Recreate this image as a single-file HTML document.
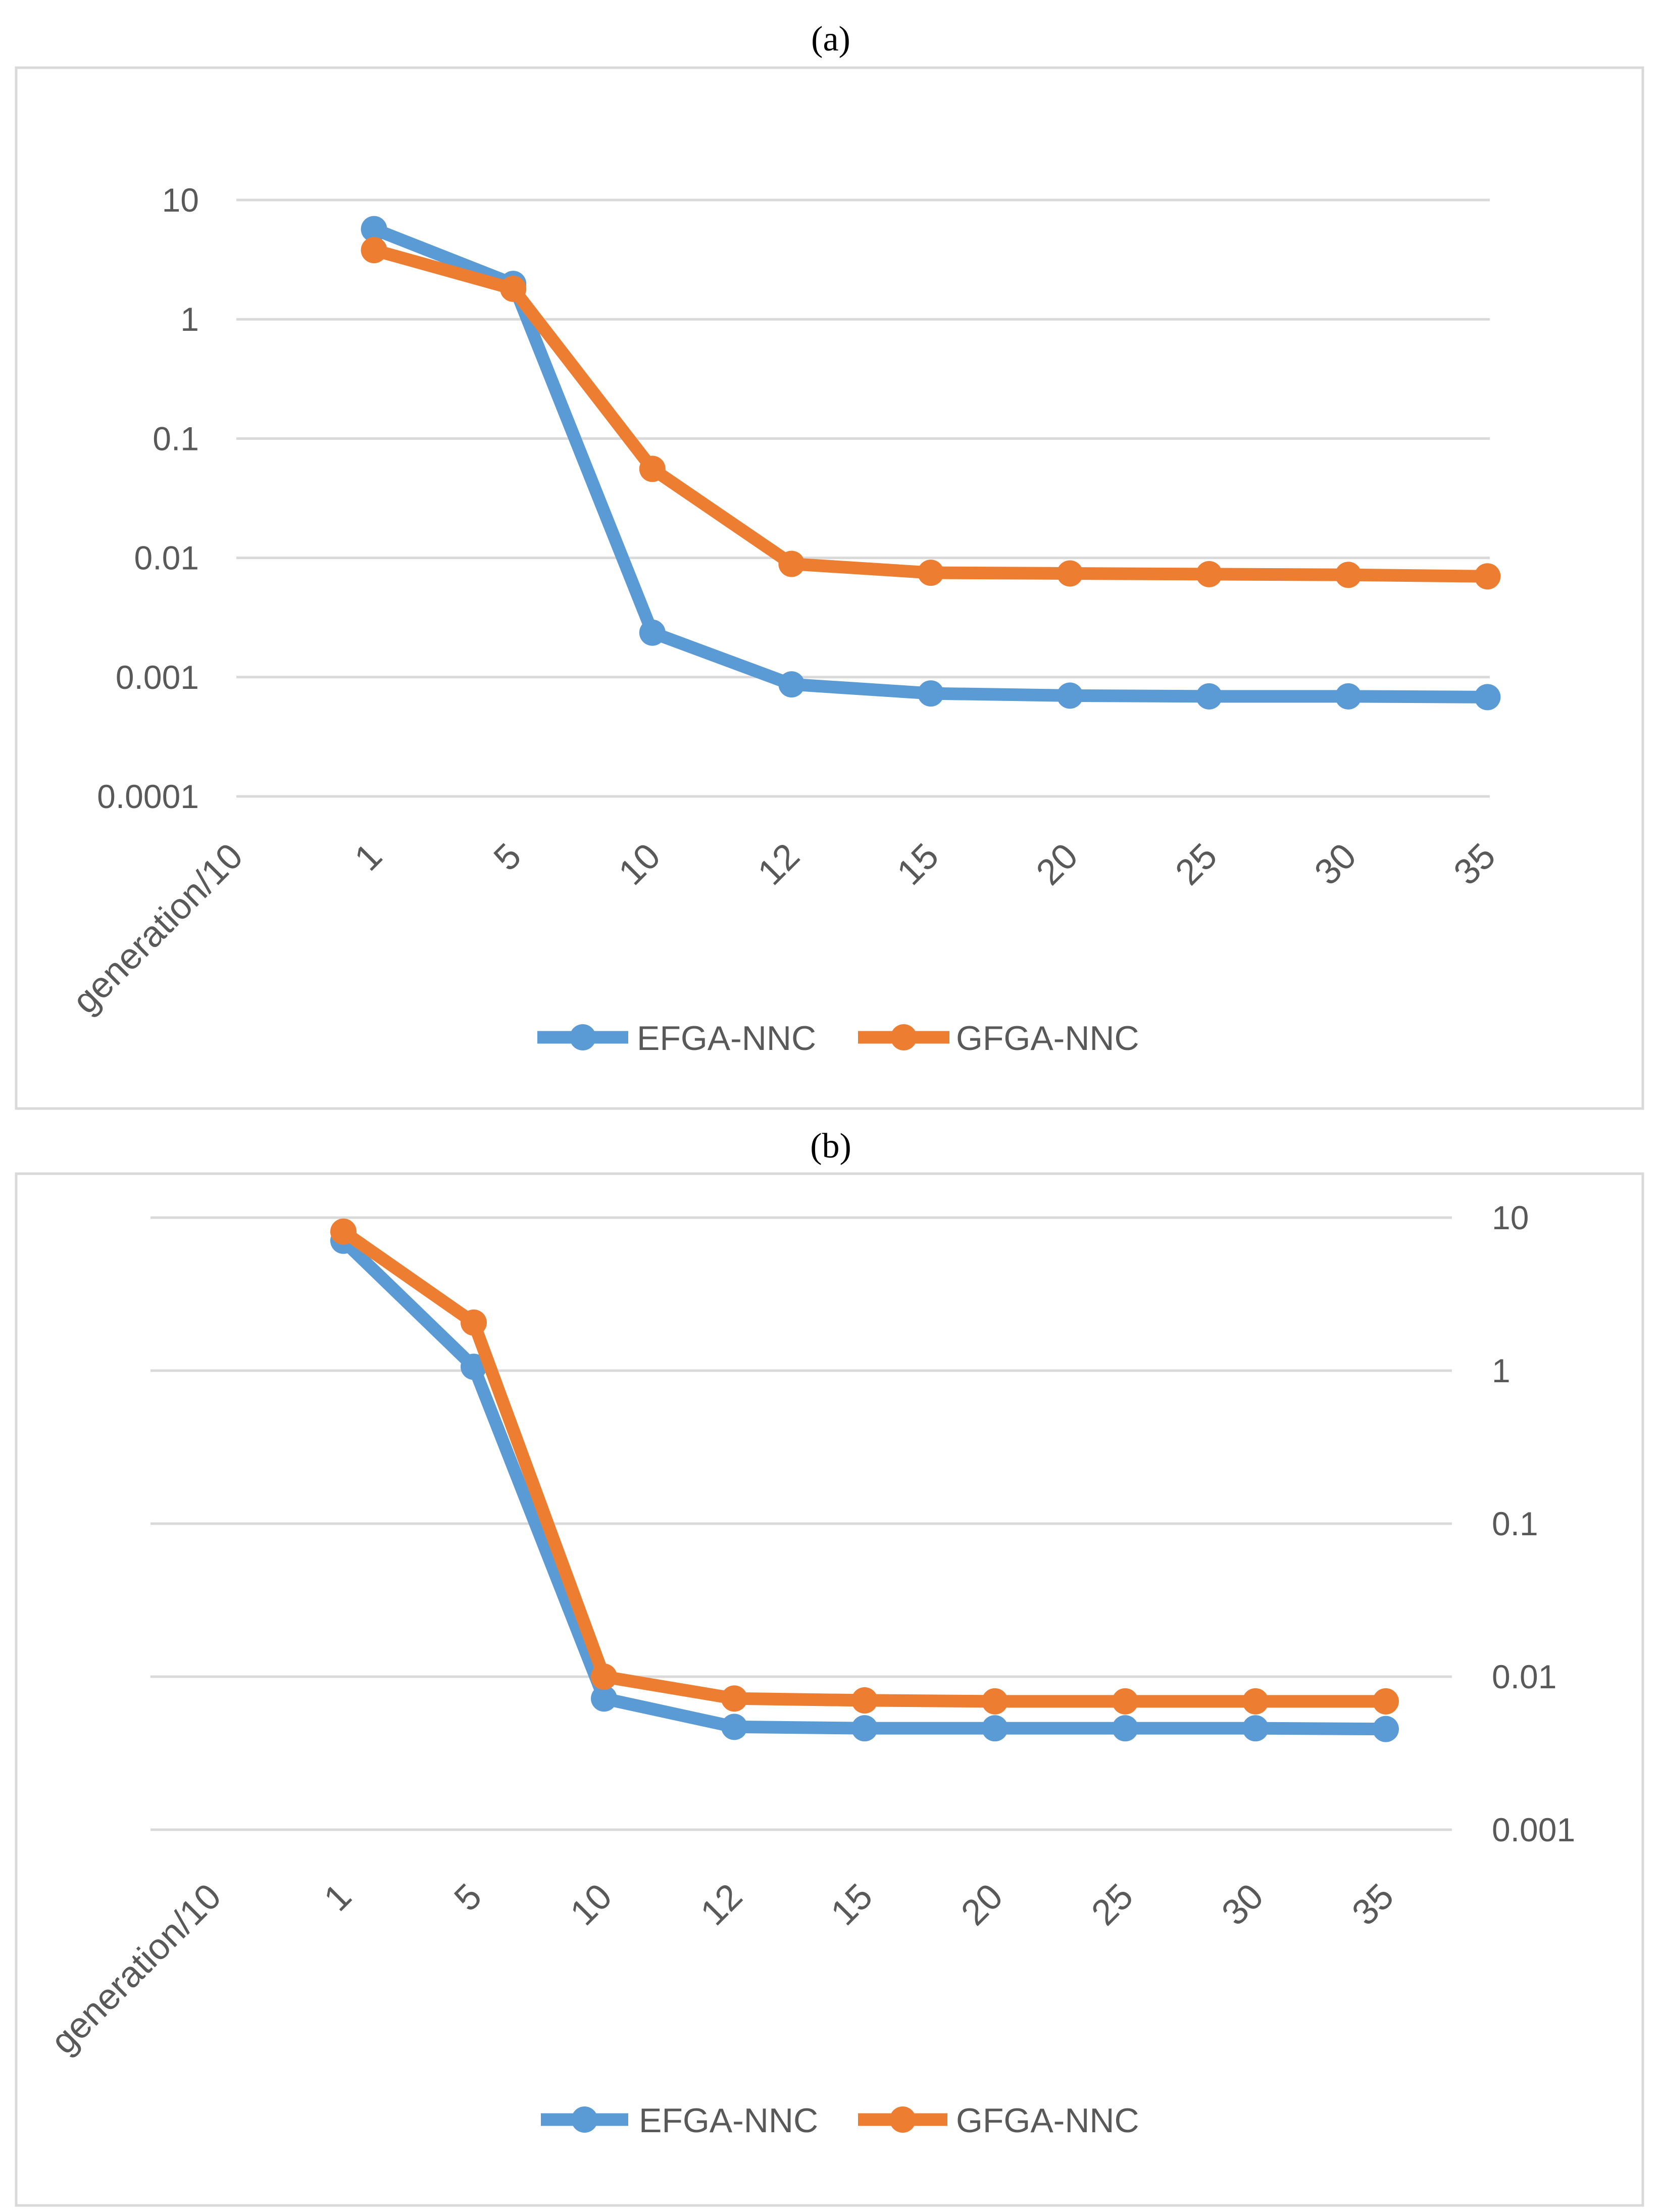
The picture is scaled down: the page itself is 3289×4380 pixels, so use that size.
<!DOCTYPE html>
<html><head><meta charset="utf-8"><style>
html,body{margin:0;padding:0;background:#fff}
svg{display:block}
</style></head><body>
<svg id="root" width="3289" height="4380" viewBox="0 0 3289 4380" xmlns="http://www.w3.org/2000/svg">
<rect x="0" y="0" width="3289" height="4380" fill="#fff"/>
</svg>
<script>
const categories = ["generation/10","1","5","10","12","15","20","25","30","35"];
const seriesNames = ["EFGA-NNC","GFGA-NNC"];
const efgaA = [null,5.7,1.98,0.00236,0.00087,0.00073,0.00070,0.00069,0.00069,0.00068];
const gfgaA = [null,3.8,1.8,0.0557,0.0089,0.0075,0.0074,0.0073,0.0072,0.0070];
const efgaB = [null,7.06,1.06,0.0072,0.0047,0.0046,0.0046,0.0046,0.0046,0.00455];
const gfgaB = [null,8.1,2.06,0.010,0.0072,0.0070,0.0069,0.0069,0.0069,0.0069];
const ticksA = ["10","1","0.1","0.01","0.001","0.0001"];
const ticksB = ["10","1","0.1","0.01","0.001"];
const colors = ["#5b9bd5","#ed7d31"];

const NS="http://www.w3.org/2000/svg";
const root=document.getElementById('root');
function mk(tag,attrs,parent){const e=document.createElementNS(NS,tag);for(const k in attrs)e.setAttribute(k,attrs[k]);(parent||root).appendChild(e);return e;}

function chart(cfg){
  const g=mk('g',{});
  
  
  const t=mk('text',{x:1645,y:cfg.titleY,'text-anchor':'middle','font-family':'Liberation Serif, serif','font-size':70,fill:'#000'},g);
  t.textContent=cfg.title;
  
  
  const box=mk('rect',{x:32,y:cfg.boxTop,width:3221,height:cfg.boxBot-cfg.boxTop,fill:'#fff',stroke:'#d9d9d9','stroke-width':5},g);
  
  
  const maxExp=1, nT=cfg.ticks.length;
  const y=v=>cfg.gTop+(maxExp-Math.log10(v))*(cfg.gBot-cfg.gTop)/(nT-1);
  const x=i=>cfg.x0+i*cfg.dx;
  cfg.ticks.forEach((lab,k)=>{
    const v=Math.pow(10,maxExp-k);
    const gl=mk('line',{x1:cfg.gx1,x2:cfg.gx2,y1:y(v),y2:y(v),stroke:'#d9d9d9','stroke-width':5},g);
    
    
    const tl=mk('text',{x:cfg.labX,y:y(v)+23,'text-anchor':cfg.labAnchor,'font-family':'Liberation Sans, sans-serif','font-size':66,fill:'#595959'},g);
    tl.textContent=lab;
    
    
  });
  categories.forEach((c,i)=>{
    const px=x(i)+20, py=cfg.xLabY;
    const tl=mk('text',{x:px,y:py,'text-anchor':'end','font-family':'Liberation Sans, sans-serif','font-size':72,fill:'#595959',transform:`rotate(-45 ${px} ${py})`},g);
    tl.textContent=c;
    
    
  });
  cfg.series.forEach((arr,s)=>{
    const pts=[];
    arr.forEach((v,i)=>{if(v!=null)pts.push([x(i),y(v)]);});
    const pl=mk('polyline',{points:pts.map(p=>p.join(',')).join(' '),fill:'none',stroke:colors[s],'stroke-width':25,'stroke-linejoin':'round'},g);
    
    
    pts.forEach(p=>{
      const c=mk('circle',{cx:p[0],cy:p[1],r:26,fill:colors[s]},g);
      
      
    });
  });
  cfg.legend.forEach((L,s)=>{
    const lg=mk('g',{},g);
    
    
    mk('line',{x1:L[0],x2:L[1],y1:cfg.legY,y2:cfg.legY,stroke:colors[s],'stroke-width':25},lg);
    mk('circle',{cx:(L[0]+L[1])/2,cy:cfg.legY,r:26,fill:colors[s]},lg);
    const tx=mk('text',{x:L[2],y:cfg.legY+25,'font-family':'Liberation Sans, sans-serif','font-size':68,fill:'#595959'},lg);
    tx.textContent=seriesNames[s];
  });
}
chart({name:'chart-a',title:'(a)',titleY:100,boxTop:134,boxBot:2195,gTop:396,gBot:1577,gx1:468,gx2:2950,
  x0:465,dx:275.6,ticks:ticksA,labX:394,labAnchor:'end',xLabY:1700,series:[efgaA,gfgaA],
  legY:2054,legend:[[1064,1244,1261],[1699,1880,1893]]});
chart({name:'chart-b',title:'(b)',titleY:2292,boxTop:2324,boxBot:4367,gTop:2411,gBot:3623,gx1:298,gx2:2875,
  x0:422,dx:258,ticks:ticksB,labX:2954,labAnchor:'start',xLabY:3760,series:[efgaB,gfgaB],
  legY:4197,legend:[[1071,1244,1265],[1699,1876,1893]]});
</script>
</body></html>
